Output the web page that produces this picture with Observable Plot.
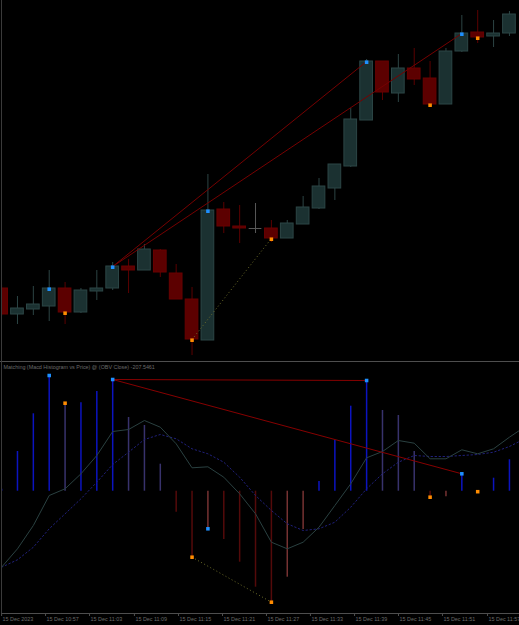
<!DOCTYPE html>
<html><head><meta charset="utf-8">
<script src="https://cdn.jsdelivr.net/npm/d3@7"></script>
<script src="https://cdn.jsdelivr.net/npm/@observablehq/plot@0.6"></script>
<style>
html,body{margin:0;padding:0;background:#000;}
#wrap{position:relative;width:519px;height:625px;overflow:hidden;background:#000;}
#topPanel{height:361px;border-bottom:1px solid #4e4e4e;}
#wrap::before{content:"";position:absolute;left:1px;top:0;width:1px;height:613px;background:#3a3a3a;z-index:2;}
svg{display:block}
</style></head><body>
<div id="wrap"><div id="topPanel"></div><div id="botPanel"></div></div>
<script>
// ---- price candles (1 bar per index) ----
const opens  = [16818.25,16811.75,16813.00,16813.75,16818.25,16812.25,16817.50,16818.25,16823.75,16822.75,16827.75,16822.00,16815.50,16805.25,16838.00,16833.75,16833.25,16833.25,16830.75,16834.25,16838.25,16843.25,16848.75,16860.25,16875.00,16867.00,16873.25,16870.75,16864.25,16877.50,16882.25,16881.25,16882.00];
const highs  = [16819.00,16816.25,16818.75,16822.75,16819.75,16818.25,16822.75,16824.75,16825.50,16829.25,16828.00,16824.25,16818.50,16846.75,16839.75,16839.00,16839.50,16835.25,16835.25,16841.25,16845.75,16849.25,16863.25,16875.50,16875.00,16876.75,16878.25,16875.00,16878.25,16886.50,16887.75,16885.25,16887.50];
const lows   = [16811.25,16809.25,16811.50,16810.00,16809.25,16812.00,16815.25,16817.75,16817.00,16822.75,16821.00,16815.50,16801.50,16805.25,16832.00,16829.50,16832.00,16829.75,16830.75,16834.25,16838.00,16840.25,16848.50,16860.25,16865.25,16864.75,16869.00,16864.25,16864.25,16877.25,16879.50,16878.50,16881.25];
const closes = [16811.75,16813.25,16814.25,16818.25,16812.25,16817.75,16818.25,16823.75,16822.75,16828.00,16822.25,16815.50,16805.50,16837.75,16833.75,16833.25,16833.25,16830.75,16834.50,16838.50,16843.75,16849.25,16860.50,16875.00,16867.25,16873.25,16870.50,16864.25,16877.50,16882.00,16881.00,16882.00,16886.75];

// ---- indicator (OBV based MACD) ----
const histogram  = [20,397,774,1157,880,885,997,1117,737,657,270,-210,-660,-376,-483,-710,-960,-1110,-860,-383,97,507,850,1107,807,757,397,-60,-55,174,-5,130,314];
const macdLine   = [-760,-576,-343,-43,24,174,357,597,617,707,640,474,234,244,140,-26,-226,-510,-576,-510,-360,-143,74,334,397,507,480,324,324,414,374,424,540,647];
const signalLine = [-760,-686,-560,-376,-226,-76,90,267,390,517,567,524,424,374,290,140,-43,-193,-326,-393,-376,-310,-160,24,174,290,357,347,347,357,367,390,447,527];

// ---- divergence detection results ----
const peakBars    = [3,7,13,23,29];
const troughBars  = [4,12,17,27,30];
const bearishLinks = [[7,23],[7,29]];
const bullishLinks = [[12,17]];

// ---- time axis ----
const tickIndex  = [0,2.77,5.54,8.37,11.15,13.92,16.69,19.46,22.24,25.01,27.78,30.62];
const tickLabels = ["15 Dec 2023","15 Dec 10:57","15 Dec 11:03","15 Dec 11:09","15 Dec 11:15","15 Dec 11:21","15 Dec 11:27","15 Dec 11:33","15 Dec 11:39","15 Dec 11:45","15 Dec 11:51","15 Dec 11:57"];
const title = "Matching (Macd Histogram vs Price) @ (OBV Close) -207.5461";

// ---- tables ----
const candles = opens.map((o,i)=>({i, open:o, high:highs[i], low:lows[i], close:closes[i]}));
const bodies = candles.filter(d=>d.open!==d.close);
const dojis = candles.filter(d=>d.open===d.close);
const hist = histogram.map((v,i)=>({i, v, prev: i? histogram[i-1] : 0}));
const macd = macdLine.map((v,i)=>({i,v}));
const signal = signalLine.map((v,i)=>({i,v}));
const ticks = tickIndex.map((p,i)=>({p, label: tickLabels[i]}));

const xScale = {type:"linear", domain:[0,32], range:[1.1, 508.94]};
const priceDomain = [16800, 16890.25];
const histDomain = [-1223, 1287];

const BULL_FILL="#1b3131", BULL_STROKE="#2c4646", BEAR_FILL="#5c0000", BEAR_STROKE="#680000";
const wick = d => d.close>d.open ? "#2c4444" : d.close<d.open ? "#5a0000" : "#585858";
const histColor = d => d.v>=0 ? (d.v>=d.prev ? "#0c14c0" : "#38326c") : (d.v<=d.prev ? "#540a0a" : "#763232");
const font = "'Liberation Sans', Arial, sans-serif";

const priceChart = Plot.plot({
  width:519, height:361, marginTop:0, marginBottom:0, marginLeft:2, marginRight:0,
  style:{background:"#000", fontFamily:font},
  x:{...xScale, axis:null},
  y:{domain:priceDomain, range:[361,0], axis:null},
  marks:[
    Plot.ruleX(candles,{x:"i", y1:"low", y2:"high", stroke:wick, strokeWidth:1, clip:true}),
    Plot.rect(bodies,{x1:d=>d.i-0.4, x2:d=>d.i+0.4, y1:"open", y2:"close",
      fill:d=>d.close>d.open?BULL_FILL:BEAR_FILL, stroke:d=>d.close>d.open?BULL_STROKE:BEAR_STROKE, strokeWidth:1, clip:true}),
    Plot.ruleY(dojis,{x1:d=>d.i-0.4, x2:d=>d.i+0.4, y:"open", stroke:"#585858", clip:true}),
    Plot.link(bearishLinks,{x1:d=>d[0], y1:d=>closes[d[0]], x2:d=>d[1], y2:d=>closes[d[1]], stroke:"#760000", strokeWidth:1}),
    Plot.link(bullishLinks,{x1:d=>d[0], y1:d=>closes[d[0]], x2:d=>d[1], y2:d=>closes[d[1]], stroke:"#6e6e2a", strokeWidth:1, strokeDasharray:"1,2.5"}),
    Plot.dot(peakBars,{x:d=>d, y:d=>closes[d], symbol:"square", r:2, fill:"#1e90ff", dy:0.7}),
    Plot.dot(troughBars,{x:d=>d, y:d=>closes[d], symbol:"square", r:2, fill:"#ff8c00", dy:0.7})
  ]
});
document.getElementById("topPanel").appendChild(priceChart);

const indicatorChart = Plot.plot({
  width:519, height:263, marginTop:0, marginBottom:12, marginLeft:2, marginRight:0,
  style:{background:"#000", fontFamily:font},
  x:{...xScale, axis:null},
  y:{domain:histDomain, range:[251,0], axis:null},
  marks:[
    Plot.ruleX(hist,{x:"i", y1:0, y2:"v", stroke:histColor, strokeWidth:1.5, clip:true}),
    Plot.line(signal,{x:"i", y:"v", stroke:"#20207a", strokeWidth:1, strokeDasharray:"1.5,2.5", clip:true}),
    Plot.line(macd,{x:"i", y:"v", stroke:"#2a4141", strokeWidth:1, clip:true}),
    Plot.link(bearishLinks,{x1:d=>d[0], y1:d=>histogram[d[0]], x2:d=>d[1], y2:d=>histogram[d[1]], stroke:"#860000", strokeWidth:1}),
    Plot.link(bullishLinks,{x1:d=>d[0], y1:d=>histogram[d[0]], x2:d=>d[1], y2:d=>histogram[d[1]], stroke:"#6e6e2a", strokeWidth:1, strokeDasharray:"1,2.5"}),
    Plot.dot(peakBars,{x:d=>d, y:d=>histogram[d], symbol:"square", r:2, fill:"#1e90ff"}),
    Plot.dot(troughBars,{x:d=>d, y:d=>histogram[d], symbol:"square", r:2, fill:"#ff8c00"}),
    Plot.text([title],{frameAnchor:"top-left", dx:1, dy:3, fill:"#6a6a6a", fontSize:5.4}),
    Plot.ruleY([histDomain[0]],{stroke:"#4e4e4e"}),
    Plot.axisX({ticks:tickIndex, tickFormat:()=>"", tickSize:3, stroke:"#4e4e4e", anchor:"bottom"}),
    Plot.text(ticks,{x:"p", text:"label", frameAnchor:"bottom", textAnchor:"start", dx:1, dy:7, fill:"#6a6a6a", fontSize:5.4})
  ]
});
document.getElementById("botPanel").appendChild(indicatorChart);
</script>
</body></html>
